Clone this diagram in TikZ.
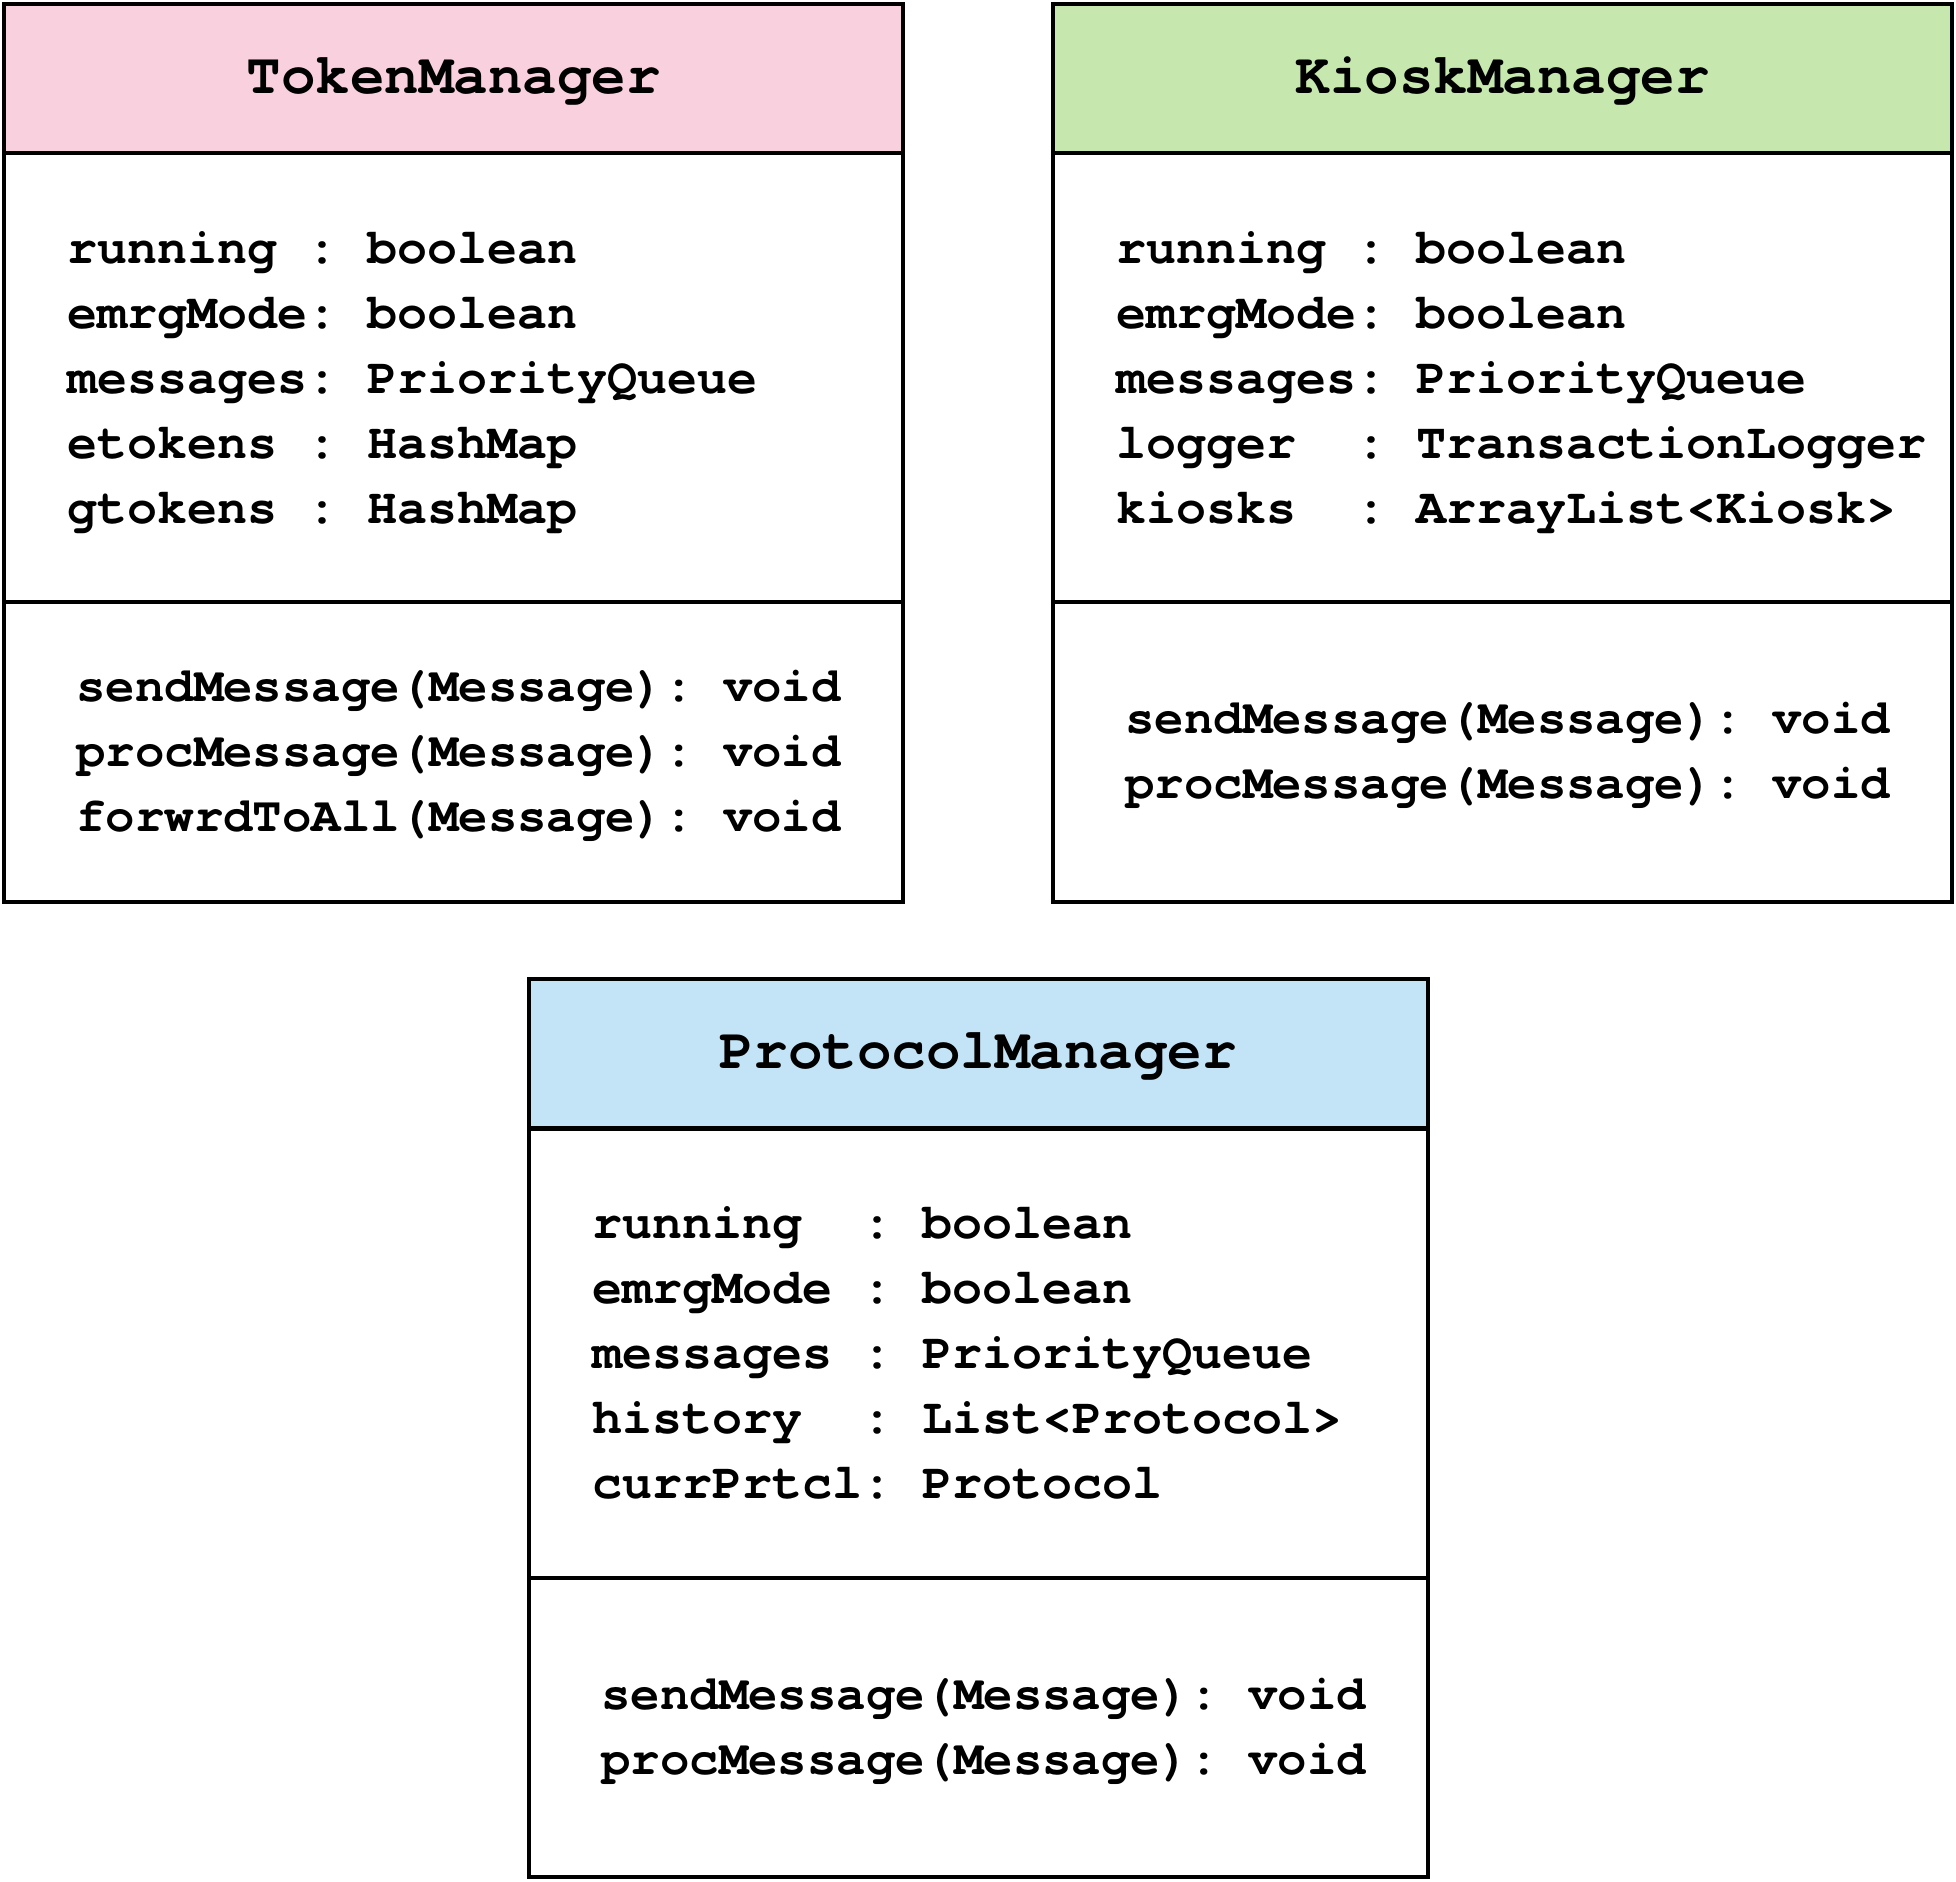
\documentclass[tikz,border=0pt]{standalone}
\usepackage{fontspec}
\newfontfamily\umlmono{texgyrecursor}[Extension=.otf, UprightFont=*-regular, BoldFont=*-bold, WordSpace={1,0,0}]
\definecolor{pinkhead}{RGB}{249,208,221}
\definecolor{greenhead}{RGB}{198,232,175}
\definecolor{bluehead}{RGB}{195,228,246}
\tikzset{
  sect/.style={draw, line width=2pt, minimum width=449.5pt, inner sep=0pt, outer sep=0pt},
  headsect/.style={sect, minimum height=74.5pt},
  attrsect/.style={sect, minimum height=224.5pt},
  methsect/.style={sect, minimum height=150pt},
  titletxt/.style={anchor=base, inner sep=0pt, font=\umlmono\bfseries\fontsize{28.75pt}{34pt}\selectfont},
  attrtxt/.style={anchor=base west, inner sep=0pt, font=\umlmono\bfseries\fontsize{25pt}{30pt}\selectfont},
  methtxt/.style={anchor=base west, inner sep=0pt, font=\umlmono\bfseries\fontsize{24.5pt}{30pt}\selectfont}
}
\begin{document}
\begin{tikzpicture}[x=0.5pt, y=-0.5pt]
\useasboundingbox (0,0) rectangle (1956,1881);
% ---------------- TokenManager
\node[headsect, fill=pinkhead] (tmHead) at (453.5,78.5) {};
\node[attrsect] (tmAttr) at (453.5,377.5) {};
\node[methsect] (tmMeth) at (453.5,752) {};
\node[titletxt] (tmTitle) at (453.5,93.5) {TokenManager};
\node[attrtxt] (tmA1) at (67,263) {running~:~boolean};
\node[attrtxt] (tmA2) at (67,328) {emrgMode:~boolean};
\node[attrtxt] (tmA3) at (67,393) {messages:~PriorityQueue};
\node[attrtxt] (tmA4) at (67,458) {etokens~:~HashMap};
\node[attrtxt] (tmA5) at (67,523) {gtokens~:~HashMap};
\node[methtxt] (tmM1) at (76,701) {sendMessage(Message):~void};
\node[methtxt] (tmM2) at (76,766) {procMessage(Message):~void};
\node[methtxt] (tmM3) at (76,831) {forwrdToAll(Message):~void};
% ---------------- KioskManager
\node[headsect, fill=greenhead] (kmHead) at (1502.5,78.5) {};
\node[attrsect] (kmAttr) at (1502.5,377.5) {};
\node[methsect] (kmMeth) at (1502.5,752) {};
\node[titletxt] (kmTitle) at (1502.5,93.5) {KioskManager};
\node[attrtxt] (kmA1) at (1116,263) {running~:~boolean};
\node[attrtxt] (kmA2) at (1116,328) {emrgMode:~boolean};
\node[attrtxt] (kmA3) at (1116,393) {messages:~PriorityQueue};
\node[attrtxt] (kmA4) at (1116,458) {logger~~:~TransactionLogger};
\node[attrtxt] (kmA5) at (1116,523) {kiosks~~:~ArrayList<Kiosk>};
\node[methtxt] (kmM1) at (1125,733.5) {sendMessage(Message):~void};
\node[methtxt] (kmM2) at (1125,798.5) {procMessage(Message):~void};
% ---------------- ProtocolManager
\node[headsect, fill=bluehead] (pmHead) at (978,1053) {};
\node[attrsect] (pmAttr) at (978,1353) {};
\node[methsect, minimum height=149.5pt] (pmMeth) at (978,1727.5) {};
\node[titletxt] (pmTitle) at (978,1068) {ProtocolManager};
\node[attrtxt] (pmA1) at (592,1238.5) {running~~:~boolean};
\node[attrtxt] (pmA2) at (592,1303.5) {emrgMode~:~boolean};
\node[attrtxt] (pmA3) at (592,1368.5) {messages~:~PriorityQueue};
\node[attrtxt] (pmA4) at (592,1433.5) {history~~:~List<Protocol>};
\node[attrtxt] (pmA5) at (592,1498.5) {currPrtcl:~Protocol};
\node[methtxt] (pmM1) at (601,1709) {sendMessage(Message):~void};
\node[methtxt] (pmM2) at (601,1774) {procMessage(Message):~void};
\end{tikzpicture}
\end{document}
